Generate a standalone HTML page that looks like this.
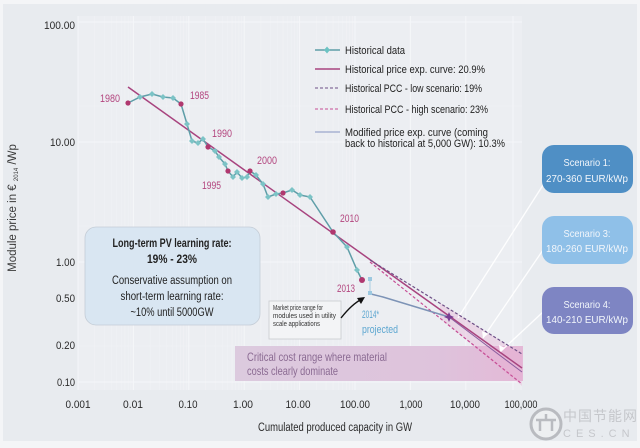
<!DOCTYPE html>
<html>
<head>
<meta charset="utf-8">
<style>
  html,body{margin:0;padding:0;background:#eef0f3;}
  svg{display:block;}
  text{font-family:"Liberation Sans Narrow","Liberation Sans","Noto Sans CJK SC",sans-serif;}
</style>
</head>
<body>
<svg width="640" height="448" viewBox="0 0 640 448" xmlns="http://www.w3.org/2000/svg">
  <defs>
    <linearGradient id="crit" x1="0" x2="1" y1="0" y2="0">
      <stop offset="0" stop-color="#dccade"/>
      <stop offset="0.7" stop-color="#dec3dc"/>
      <stop offset="1" stop-color="#e4b9d7"/>
    </linearGradient>
  </defs>
  <!-- background -->
  <rect x="0" y="0" width="640" height="448" fill="#f4f5f7"/>
  <rect x="3" y="4" width="634" height="437" fill="#e8ebef"/>
  <rect x="78" y="16" width="444" height="374" fill="#eceef2"/>

  <!-- grid -->
  <g stroke="#f8f9fb" stroke-width="1" opacity="0.8">
    <line x1="78" y1="16" x2="78" y2="390"/>
    <line x1="133.4" y1="16" x2="133.4" y2="390"/>
    <line x1="188.8" y1="16" x2="188.8" y2="390"/>
    <line x1="244.2" y1="16" x2="244.2" y2="390"/>
    <line x1="299.6" y1="16" x2="299.6" y2="390"/>
    <line x1="355" y1="16" x2="355" y2="390"/>
    <line x1="410.4" y1="16" x2="410.4" y2="390"/>
    <line x1="465.8" y1="16" x2="465.8" y2="390"/>
    <line x1="513" y1="16" x2="513" y2="390"/>
    <line x1="78" y1="22" x2="522" y2="22"/>
    <line x1="78" y1="142" x2="522" y2="142"/>
    <line x1="78" y1="262" x2="522" y2="262"/>
    <line x1="78" y1="382" x2="522" y2="382"/>
  </g>
  <g stroke="#f6f7f9" stroke-width="0.6" opacity="0.5">
    <line x1="94.7" y1="16" x2="94.7" y2="390"/><line x1="104.4" y1="16" x2="104.4" y2="390"/><line x1="111.4" y1="16" x2="111.4" y2="390"/><line x1="116.8" y1="16" x2="116.8" y2="390"/><line x1="121.2" y1="16" x2="121.2" y2="390"/><line x1="124.9" y1="16" x2="124.9" y2="390"/><line x1="128.1" y1="16" x2="128.1" y2="390"/><line x1="130.9" y1="16" x2="130.9" y2="390"/>
    <line x1="150.1" y1="16" x2="150.1" y2="390"/><line x1="159.8" y1="16" x2="159.8" y2="390"/><line x1="166.8" y1="16" x2="166.8" y2="390"/><line x1="172.2" y1="16" x2="172.2" y2="390"/><line x1="176.6" y1="16" x2="176.6" y2="390"/><line x1="180.3" y1="16" x2="180.3" y2="390"/><line x1="183.5" y1="16" x2="183.5" y2="390"/><line x1="186.3" y1="16" x2="186.3" y2="390"/>
    <line x1="205.5" y1="16" x2="205.5" y2="390"/><line x1="215.2" y1="16" x2="215.2" y2="390"/><line x1="222.2" y1="16" x2="222.2" y2="390"/><line x1="227.6" y1="16" x2="227.6" y2="390"/><line x1="232" y1="16" x2="232" y2="390"/><line x1="235.7" y1="16" x2="235.7" y2="390"/><line x1="238.9" y1="16" x2="238.9" y2="390"/><line x1="241.7" y1="16" x2="241.7" y2="390"/>
    <line x1="260.9" y1="16" x2="260.9" y2="390"/><line x1="270.6" y1="16" x2="270.6" y2="390"/><line x1="277.6" y1="16" x2="277.6" y2="390"/><line x1="283" y1="16" x2="283" y2="390"/><line x1="287.4" y1="16" x2="287.4" y2="390"/><line x1="291.1" y1="16" x2="291.1" y2="390"/><line x1="294.3" y1="16" x2="294.3" y2="390"/><line x1="297.1" y1="16" x2="297.1" y2="390"/>
    <line x1="316.3" y1="16" x2="316.3" y2="390"/><line x1="326" y1="16" x2="326" y2="390"/><line x1="333" y1="16" x2="333" y2="390"/><line x1="338.4" y1="16" x2="338.4" y2="390"/><line x1="342.8" y1="16" x2="342.8" y2="390"/><line x1="346.5" y1="16" x2="346.5" y2="390"/><line x1="349.7" y1="16" x2="349.7" y2="390"/><line x1="352.5" y1="16" x2="352.5" y2="390"/>
    <line x1="78" y1="106" x2="522" y2="106"/><line x1="78" y1="226" x2="522" y2="226"/><line x1="78" y1="346" x2="522" y2="346"/>
  </g>

  <!-- critical cost range box -->
  <rect x="235" y="346" width="288" height="35" fill="url(#crit)"/>
  <text x="247" y="361" font-size="12" fill="#8a6a92" textLength="140" lengthAdjust="spacingAndGlyphs">Critical cost range where material</text>
  <text x="247" y="375" font-size="12" fill="#8a6a92" textLength="91" lengthAdjust="spacingAndGlyphs">costs clearly dominate</text>

  <!-- pink band between scenarios -->
  <polygon points="440,303 522,354 522,386 440,318" fill="#e7a9d0" opacity="0.35"/>

  <!-- white pointer lines from scenario boxes -->
  <g stroke="#ffffff" stroke-width="1.3" fill="none" opacity="0.95">
    <line x1="545" y1="182" x2="458" y2="318"/>
    <line x1="543" y1="250" x2="483" y2="338"/>
    <line x1="543" y1="312" x2="500" y2="352"/>
  </g>
  <polygon points="483,338 482,331 488,334" fill="#fff"/>
  <polygon points="500,352 499,345 505,348" fill="#fff"/>

  <!-- main exp curve -->
  <line x1="128" y1="87" x2="522" y2="368" stroke="#a8447f" stroke-width="1.5"/>
  <!-- low scenario dashed -->
  <line x1="370" y1="260" x2="522" y2="354" stroke="#6d4f86" stroke-width="1.2" stroke-dasharray="3,2"/>
  <!-- high scenario dashed -->
  <line x1="370" y1="262" x2="522" y2="384" stroke="#c64d95" stroke-width="1.2" stroke-dasharray="3,2"/>
  <line x1="449" y1="317" x2="522" y2="372" stroke="#8a5c9e" stroke-width="1"/>

  <!-- historical data -->
  <polyline fill="none" stroke="#5f9ea8" stroke-width="1.5" points="128,103 140,97 152,94 163,97 173,98 181,104 187,124 192,141 198,143 203,139 208,147 215,151 219,157 225,164 228,171 233,177 237,172 242,178 247,177 250,171 256,175 263,184 268,197 276,194 283,193 292,190 300,195 310,197 333,232 347,247 357,270 362,280"/>
  <g fill="#7cc3c6">
    <path d="M140,94 l3,3 -3,3 -3,-3z"/><path d="M152,91 l3,3 -3,3 -3,-3z"/><path d="M163,94 l3,3 -3,3 -3,-3z"/><path d="M173,95 l3,3 -3,3 -3,-3z"/>
    <path d="M187,121 l3,3 -3,3 -3,-3z"/><path d="M192,138 l3,3 -3,3 -3,-3z"/><path d="M198,140 l3,3 -3,3 -3,-3z"/><path d="M203,136 l3,3 -3,3 -3,-3z"/>
    <path d="M215,148 l3,3 -3,3 -3,-3z"/><path d="M219,154 l3,3 -3,3 -3,-3z"/><path d="M225,161 l3,3 -3,3 -3,-3z"/>
    <path d="M233,174 l3,3 -3,3 -3,-3z"/><path d="M237,169 l3,3 -3,3 -3,-3z"/><path d="M242,175 l3,3 -3,3 -3,-3z"/><path d="M247,174 l3,3 -3,3 -3,-3z"/>
    <path d="M256,172 l3,3 -3,3 -3,-3z"/><path d="M263,181 l3,3 -3,3 -3,-3z"/><path d="M268,194 l3,3 -3,3 -3,-3z"/><path d="M276,191 l3,3 -3,3 -3,-3z"/>
    <path d="M292,187 l3,3 -3,3 -3,-3z"/><path d="M300,192 l3,3 -3,3 -3,-3z"/><path d="M310,194 l3,3 -3,3 -3,-3z"/>
    <path d="M347,244 l3,3 -3,3 -3,-3z"/><path d="M357,267 l3,3 -3,3 -3,-3z"/>
  </g>
  <g fill="#b0386f">
    <circle cx="128" cy="103" r="2.6"/><circle cx="181" cy="104" r="2.6"/><circle cx="208" cy="147" r="2.6"/><circle cx="228" cy="171" r="2.6"/>
    <circle cx="250" cy="171" r="2.6"/><circle cx="283" cy="193" r="2.6"/><circle cx="333" cy="232" r="2.8"/><circle cx="362" cy="280" r="3"/>
  </g>

  <!-- 2014 projected + modified curve -->
  <line x1="370" y1="280" x2="370" y2="293" stroke="#a9cfe3" stroke-width="1"/>
  <polyline fill="none" stroke="#7d93b6" stroke-width="1.5" points="371,294 383,297 449,317"/>
  <rect x="368" y="277" width="4" height="4" fill="#9cc8e0"/>
  <rect x="368" y="291" width="4" height="4" fill="#9cc8e0"/>
  <path d="M449,312 l1.5,3.5 3.5,1.5 -3.5,1.5 -1.5,3.5 -1.5,-3.5 -3.5,-1.5 3.5,-1.5z" fill="#7a3f93"/>

  <!-- year labels -->
  <g font-size="11" fill="#b3467f">
    <text x="100" y="102" textLength="20" lengthAdjust="spacingAndGlyphs">1980</text>
    <text x="190" y="99" textLength="19" lengthAdjust="spacingAndGlyphs">1985</text>
    <text x="212" y="137" textLength="20" lengthAdjust="spacingAndGlyphs">1990</text>
    <text x="202" y="189" textLength="19" lengthAdjust="spacingAndGlyphs">1995</text>
    <text x="257" y="164" textLength="20" lengthAdjust="spacingAndGlyphs">2000</text>
    <text x="340" y="222" textLength="19" lengthAdjust="spacingAndGlyphs">2010</text>
    <text x="337" y="292" textLength="18" lengthAdjust="spacingAndGlyphs">2013</text>
  </g>
  <g font-size="11" fill="#5ca6d0">
    <text x="362" y="318" textLength="17" lengthAdjust="spacingAndGlyphs">2014*</text>
    <text x="362" y="333" textLength="36" lengthAdjust="spacingAndGlyphs">projected</text>
  </g>

  <!-- market price box + arrow -->
  <rect x="269" y="301" width="72" height="38" fill="#f3f4f6" stroke="#c9cbd0" stroke-width="0.8"/>
  <g font-size="7" fill="#333">
    <text x="273" y="310" textLength="50" lengthAdjust="spacingAndGlyphs">Market price range for</text>
    <text x="273" y="318" textLength="63" lengthAdjust="spacingAndGlyphs">modules used in utility</text>
    <text x="273" y="326" textLength="47" lengthAdjust="spacingAndGlyphs">scale applications</text>
  </g>
  <path d="M341,318 Q352,304 362,299" fill="none" stroke="#111" stroke-width="1.4"/>
  <polygon points="365,297 357,298 361,304" fill="#111"/>

  <!-- left info box -->
  <rect x="85" y="227" width="175" height="98" rx="11" ry="11" fill="#d9e6f2" stroke="#c4ccd6" stroke-width="0.8"/>
  <g font-size="11.5" fill="#222" text-anchor="middle">
    <text x="172" y="247" font-weight="bold" textLength="119" lengthAdjust="spacingAndGlyphs">Long-term PV learning rate:</text>
    <text x="172" y="263" font-weight="bold" textLength="50" lengthAdjust="spacingAndGlyphs">19% - 23%</text>
    <text x="172" y="284" textLength="120" lengthAdjust="spacingAndGlyphs">Conservative assumption on</text>
    <text x="172" y="300" textLength="103" lengthAdjust="spacingAndGlyphs">short-term learning rate:</text>
    <text x="172" y="316" textLength="83" lengthAdjust="spacingAndGlyphs">~10% until 5000GW</text>
  </g>

  <!-- scenario boxes -->
  <rect x="542" y="145" width="91" height="48" rx="12" ry="12" fill="#4f8fc5"/>
  <rect x="542" y="216" width="91" height="48" rx="12" ry="12" fill="#8fc0e8"/>
  <rect x="542" y="287" width="91" height="47" rx="12" ry="12" fill="#7e85c3"/>
  <g font-size="10.5" fill="#f2f6fb" text-anchor="middle">
    <text x="587" y="166" textLength="47" lengthAdjust="spacingAndGlyphs">Scenario 1:</text>
    <text x="587" y="182" textLength="82" lengthAdjust="spacingAndGlyphs">270-360 EUR/kWp</text>
    <text x="587" y="237" textLength="47" lengthAdjust="spacingAndGlyphs">Scenario 3:</text>
    <text x="587" y="252" textLength="82" lengthAdjust="spacingAndGlyphs">180-260 EUR/kWp</text>
    <text x="587" y="308" textLength="47" lengthAdjust="spacingAndGlyphs">Scenario 4:</text>
    <text x="587" y="323" textLength="82" lengthAdjust="spacingAndGlyphs">140-210 EUR/kWp</text>
  </g>

  <!-- legend -->
  <line x1="315" y1="50" x2="340" y2="50" stroke="#5f9ea8" stroke-width="1.5"/>
  <path d="M327,46.5 l3,3.5 -3,3.5 -3,-3.5z" fill="#6cc3c3"/>
  <line x1="315" y1="69" x2="340" y2="69" stroke="#a8447f" stroke-width="1.5"/>
  <line x1="315" y1="88" x2="340" y2="88" stroke="#6d4f86" stroke-width="1" stroke-dasharray="3,2"/>
  <line x1="315" y1="109" x2="340" y2="109" stroke="#c64d95" stroke-width="1" stroke-dasharray="3,2"/>
  <line x1="315" y1="132" x2="340" y2="132" stroke="#9aa6cc" stroke-width="1.2"/>
  <g font-size="11" fill="#222">
    <text x="345" y="54" textLength="60" lengthAdjust="spacingAndGlyphs">Historical data</text>
    <text x="345" y="73" textLength="140" lengthAdjust="spacingAndGlyphs">Historical price exp. curve: 20.9%</text>
    <text x="345" y="92" textLength="137" lengthAdjust="spacingAndGlyphs">Historical PCC - low scenario: 19%</text>
    <text x="345" y="113" textLength="143" lengthAdjust="spacingAndGlyphs">Historical PCC - high scenario: 23%</text>
    <text x="345" y="136" textLength="143" lengthAdjust="spacingAndGlyphs">Modified price exp. curve (coming</text>
    <text x="345" y="147" textLength="160" lengthAdjust="spacingAndGlyphs">back to historical at 5,000 GW): 10.3%</text>
  </g>

  <!-- y tick labels -->
  <g font-size="11" fill="#2a2a2a" text-anchor="end">
    <text x="75" y="29" textLength="31" lengthAdjust="spacingAndGlyphs">100.00</text>
    <text x="75" y="146" textLength="25" lengthAdjust="spacingAndGlyphs">10.00</text>
    <text x="75" y="266" textLength="19" lengthAdjust="spacingAndGlyphs">1.00</text>
    <text x="75" y="302" textLength="19" lengthAdjust="spacingAndGlyphs">0.50</text>
    <text x="75" y="349" textLength="19" lengthAdjust="spacingAndGlyphs">0.20</text>
    <text x="75" y="386" textLength="18" lengthAdjust="spacingAndGlyphs">0.10</text>
  </g>
  <!-- x tick labels -->
  <g font-size="11" fill="#2a2a2a" text-anchor="middle">
    <text x="78" y="408" textLength="25" lengthAdjust="spacingAndGlyphs">0.001</text>
    <text x="133" y="408" textLength="20" lengthAdjust="spacingAndGlyphs">0.01</text>
    <text x="188" y="408" textLength="19" lengthAdjust="spacingAndGlyphs">0.10</text>
    <text x="243" y="408" textLength="20" lengthAdjust="spacingAndGlyphs">1.00</text>
    <text x="298" y="408" textLength="25" lengthAdjust="spacingAndGlyphs">10.00</text>
    <text x="355" y="408" textLength="30" lengthAdjust="spacingAndGlyphs">100.00</text>
    <text x="411" y="408" textLength="23" lengthAdjust="spacingAndGlyphs">1,000</text>
    <text x="465" y="408" textLength="30" lengthAdjust="spacingAndGlyphs">10,000</text>
    <text x="521" y="408" textLength="33" lengthAdjust="spacingAndGlyphs">100,000</text>
  </g>

  <!-- axis titles -->
  <text x="258" y="431" font-size="11.5" fill="#2a2a2a" textLength="154" lengthAdjust="spacingAndGlyphs">Cumulated produced capacity in GW</text>
  <text transform="translate(16,208) rotate(-90)" text-anchor="middle" font-size="11.5" fill="#3a3a3a">Module price in € <tspan font-size="6" dy="2">2014</tspan><tspan dy="-2"> /Wp</tspan></text>

  <!-- watermark -->
  <g opacity="0.9">
    <circle cx="546" cy="424" r="15" fill="#eef0f2" stroke="#b4b6bb" stroke-width="3"/>
    <path d="M536,420 h20 M540,420 v11 M552,420 v11 M546,414 v6" stroke="#b4b6bb" stroke-width="2.5" fill="none"/>
    <text x="563" y="421" font-size="14" fill="#c2c4c8" font-family="'Noto Sans CJK SC',sans-serif" letter-spacing="1">中国节能网</text>
    <text x="563" y="437" font-size="11" fill="#c2c4c8" letter-spacing="5">CES.CN</text>
  </g>
</svg>
</body>
</html>
